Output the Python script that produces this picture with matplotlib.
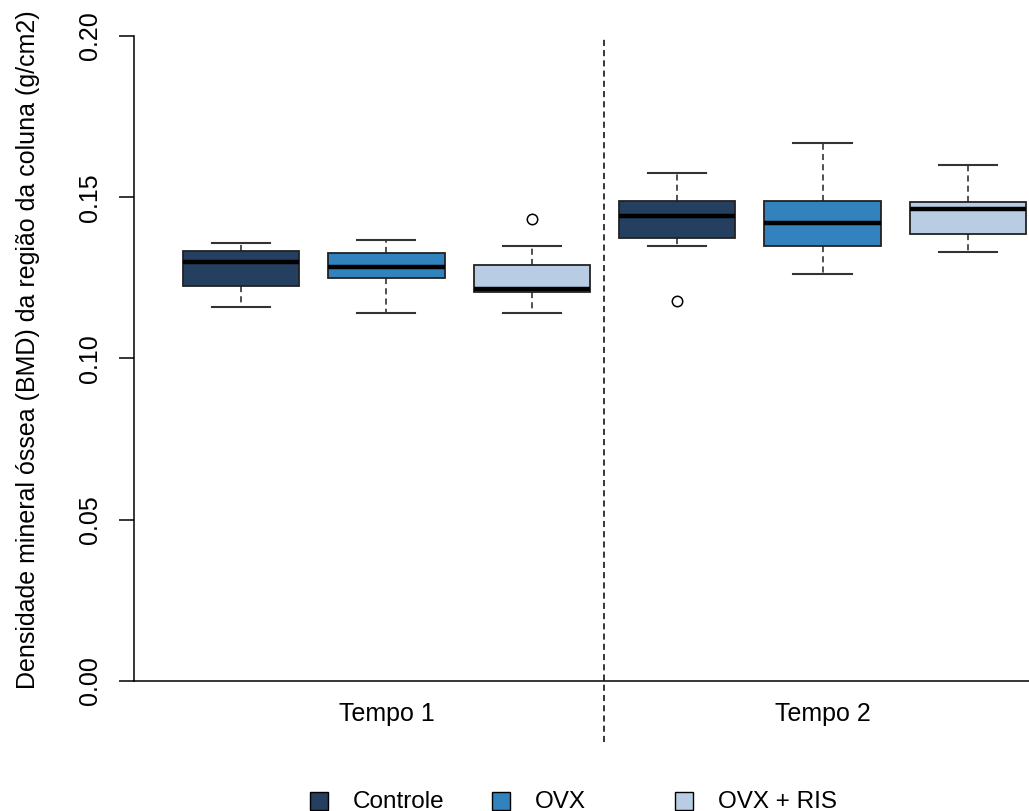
import matplotlib.pyplot as plt
from matplotlib.patches import Rectangle

plt.rcParams['font.family'] = ['Liberation Sans', 'DejaVu Sans']

# Summary values of each box (Tempo 1: Controle, OVX, OVX+RIS; Tempo 2: same order)
groups = ['Controle', 'OVX', 'OVX + RIS']
tempos = ['Tempo 1', 'Tempo 2']
colors = ['#243F5F', '#3182BD', '#B8CCE4']

whislo = [0.1160, 0.1140, 0.1140, 0.1348, 0.1261, 0.1329]
q1 = [0.1225, 0.1251, 0.1206, 0.1373, 0.1348, 0.1387]
med = [0.1299, 0.1285, 0.1215, 0.1441, 0.1420, 0.1464]
q3 = [0.1333, 0.1328, 0.1290, 0.1489, 0.1489, 0.1485]
whishi = [0.1358, 0.1367, 0.1348, 0.1576, 0.1669, 0.1601]
fliers = [[], [], [0.1432], [0.1177], [], []]

stats = []
for i in range(len(med)):
    stats.append(dict(whislo=whislo[i], q1=q1[i], med=med[i], q3=q3[i],
                      whishi=whishi[i], fliers=fliers[i]))

fig = plt.figure(figsize=(10.29, 8.11), dpi=100)
ax = fig.add_axes([134 / 1029, 130 / 811, 895 / 1029, 645 / 811])

positions = list(range(1, len(stats) + 1))
box_colors = colors * len(tempos)
dash = (0, (4, 2.7))

bp = ax.bxp(stats, positions=positions, widths=0.8, patch_artist=True,
            boxprops=dict(edgecolor='#222222', linewidth=1.3),
            medianprops=dict(color='black', linewidth=3.2, solid_capstyle='butt'),
            whiskerprops=dict(color='#222222', linewidth=1.1, linestyle=dash),
            capprops=dict(color='#333333', linewidth=1.5),
            capwidths=0.4,
            flierprops=dict(marker='o', markerfacecolor='none', markeredgecolor='black',
                            markersize=7.5, markeredgewidth=1.1))
for patch, c in zip(bp['boxes'], box_colors):
    patch.set_facecolor(c)

# divider between the two time points
n = len(groups)
ax.plot([n + 0.5, n + 0.5], [-0.019, 0.2], color='black', linewidth=1.1,
        linestyle=dash, clip_on=False)

ax.set_xlim(0.264, 6.42)
ax.set_ylim(0, 0.2)
ax.set_yticks([0.00, 0.05, 0.10, 0.15, 0.20])
ax.set_yticklabels(['0.00', '0.05', '0.10', '0.15', '0.20'], rotation=90, va='center')
ax.set_xticks([(n + 1) / 2, n + (n + 1) / 2])
ax.set_xticklabels(tempos)
ax.tick_params(axis='y', length=11, width=1.1, pad=12, labelsize=18)
ax.tick_params(axis='x', length=0, pad=15, labelsize=18)

ax.spines['top'].set_visible(False)
ax.spines['right'].set_visible(False)
ax.spines['left'].set_linewidth(1.1)
ax.spines['bottom'].set_linewidth(1.1)

ax.set_ylabel('Densidade mineral óssea (BMD) da região da coluna (g/cm2)',
              fontsize=18, va='center')
ax.yaxis.set_label_coords(-0.1184, 0.513)

# legend row along the bottom edge
leg_x = [310, 492, 675]
for x, g, c in zip(leg_x, groups, colors):
    fig.add_artist(Rectangle((x / 1029, 1 / 811), 18 / 1029, 18 / 811,
                             transform=fig.transFigure, facecolor=c,
                             edgecolor='black', linewidth=1.0))
    fig.text((x + 43) / 1029, 9 / 811, g, fontsize=17.5, va='center', ha='left')

fig.savefig('out.png', dpi=100)
